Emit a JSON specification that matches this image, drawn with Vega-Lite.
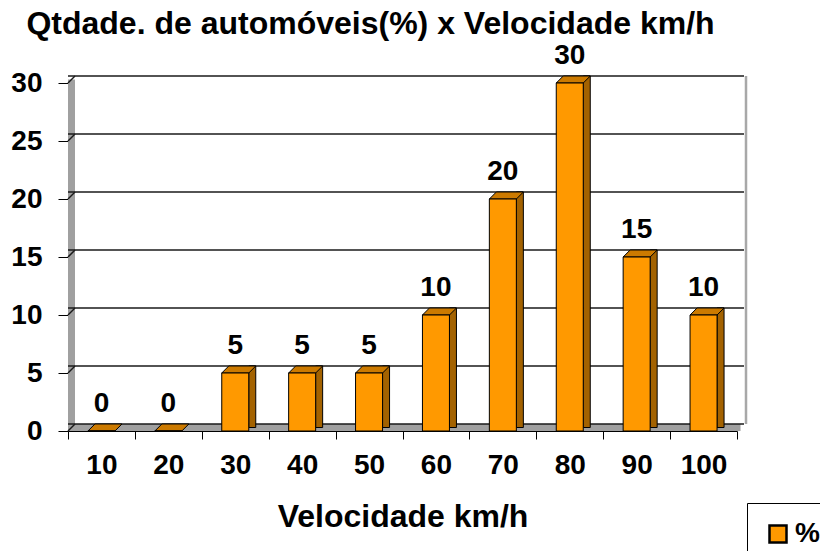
{
  "$schema": "https://vega.github.io/schema/vega-lite/v6.json",
  "width": 669,
  "height": 348,
  "autosize": {"type": "none"},
  "padding": {"left": 68, "top": 83, "right": 83, "bottom": 120},
  "background": "white",
  "title": {
    "text": "Qtdade. de automóveis(%) x Velocidade km/h",
    "font": "Liberation Sans",
    "fontSize": 32,
    "fontWeight": "bold",
    "color": "black",
    "anchor": "middle",
    "dx": -32,
    "baseline": "alphabetic",
    "offset": -24
  },
  "datasets": {
    "speeds": [
      {"v": "10", "pct": 0, "serie": "%"},
      {"v": "20", "pct": 0, "serie": "%"},
      {"v": "30", "pct": 5, "serie": "%"},
      {"v": "40", "pct": 5, "serie": "%"},
      {"v": "50", "pct": 5, "serie": "%"},
      {"v": "60", "pct": 10, "serie": "%"},
      {"v": "70", "pct": 20, "serie": "%"},
      {"v": "80", "pct": 30, "serie": "%"},
      {"v": "90", "pct": 15, "serie": "%"},
      {"v": "100", "pct": 10, "serie": "%"}
    ],
    "grid": [{"g": 0}, {"g": 5}, {"g": 10}, {"g": 15}, {"g": 20}, {"g": 25}, {"g": 30}],
    "wall": [{"w": "wall"}]
  },
  "layer": [
    {
      "data": {"name": "wall"},
      "mark": {"type": "rule", "stroke": "#a0a0a0", "strokeWidth": 7, "xOffset": 3.5, "yOffset": -3.5, "y2Offset": -3.5},
      "encoding": {
        "x": {"datum": "10", "type": "nominal", "bandPosition": 0, "scale": {"domain": ["10","20","30","40","50","60","70","80","90","100"], "paddingInner": 0, "paddingOuter": 0}, "title": "Velocidade km/h"},
        "y": {"datum": 0, "type": "quantitative", "scale": {"domain": [0, 30], "nice": false}, "title": null},
        "y2": {"datum": 30}
      }
    },
    {
      "data": {"name": "wall"},
      "mark": {"type": "rule", "stroke": "#a0a0a0", "strokeWidth": 7, "xOffset": 3.5, "x2Offset": 4.5, "yOffset": -3.5},
      "encoding": {
        "y": {"datum": 0, "type": "quantitative", "title": null}
      }
    },
    {
      "data": {"name": "wall"},
      "mark": {"type": "rule", "stroke": "#a8a8a8", "strokeWidth": 2.5, "xOffset": 9, "yOffset": -7, "y2Offset": -7},
      "encoding": {
        "x": {"datum": "100", "type": "nominal", "bandPosition": 1, "title": "Velocidade km/h"},
        "y": {"datum": 0, "type": "quantitative", "title": null},
        "y2": {"datum": 30}
      }
    },
    {
      "data": {"name": "grid"},
      "mark": {"type": "rule", "stroke": "#1a1a1a", "strokeWidth": 1.5, "xOffset": 7, "x2Offset": 9, "yOffset": -7},
      "encoding": {
        "y": {"field": "g", "type": "quantitative", "title": null}
      }
    },
    {
      "data": {"name": "grid"},
      "mark": {"type": "point", "shape": "M0,0L1,-1", "size": 196, "filled": false, "stroke": "#1a1a1a", "strokeWidth": 1.5, "opacity": 1},
      "encoding": {
        "x": {"datum": "10", "type": "nominal", "bandPosition": 0, "title": "Velocidade km/h"},
        "y": {"field": "g", "type": "quantitative", "title": null}
      }
    },
    {
      "data": {"name": "speeds"},
      "transform": [{"filter": "datum.pct > 0"}],
      "mark": {"type": "bar", "width": 7, "xOffset": 17, "yOffset": -7, "y2Offset": -3.5, "fill": "#a36200", "stroke": "black", "strokeWidth": 1},
      "encoding": {
        "x": {"field": "v", "type": "nominal", "title": "Velocidade km/h"},
        "y": {"field": "pct", "type": "quantitative", "title": null},
        "y2": {"datum": 0}
      }
    },
    {
      "data": {"name": "speeds"},
      "mark": {"type": "point", "shape": "M-1,0L1,0L1.5185,-0.5185L-0.4815,-0.5185Z", "size": 729, "filled": true, "fill": "#cc7a00", "stroke": "black", "strokeWidth": 1, "opacity": 1},
      "encoding": {
        "x": {"field": "v", "type": "nominal", "title": "Velocidade km/h"},
        "y": {"field": "pct", "type": "quantitative", "title": null}
      }
    },
    {
      "data": {"name": "speeds"},
      "mark": {"type": "bar", "width": 27, "stroke": "black", "strokeWidth": 1},
      "encoding": {
        "x": {"field": "v", "type": "nominal", "title": "Velocidade km/h"},
        "y": {"field": "pct", "type": "quantitative", "title": null},
        "y2": {"datum": 0},
        "color": {
          "field": "serie", "type": "nominal",
          "scale": {"domain": ["%"], "range": ["#ff9900"]},
          "legend": {
            "title": null, "orient": "none", "legendX": 679, "legendY": 420,
            "symbolType": "square", "symbolSize": 289, "symbolStrokeColor": "black", "symbolStrokeWidth": 2.5, "symbolOpacity": 1,
            "labelFont": "Liberation Sans", "labelFontSize": 28, "labelFontWeight": "bold", "labelColor": "black", "labelOffset": 3,
            "strokeColor": "black", "fillColor": "white", "padding": 17
          }
        }
      }
    },
    {
      "data": {"name": "speeds"},
      "mark": {"type": "text", "font": "Liberation Sans", "fontSize": 28, "fontWeight": "bold", "color": "black", "baseline": "alphabetic", "dy": -19},
      "encoding": {
        "x": {"field": "v", "type": "nominal", "title": "Velocidade km/h"},
        "y": {"field": "pct", "type": "quantitative", "title": null},
        "text": {"field": "pct", "type": "quantitative"}
      }
    }
  ],
  "config": {
    "view": {"stroke": null},
    "axisX": {
      "labelAngle": 0, "labelFont": "Liberation Sans", "labelFontSize": 28, "labelFontWeight": "bold", "labelColor": "black",
      "tickBand": "extent", "tickSize": 8, "tickColor": "black", "domainColor": "black", "labelPadding": 12,
      "titleFont": "Liberation Sans", "titleFontSize": 32, "titleFontWeight": "bold", "titleColor": "black", "titlePadding": 22, "grid": false
    },
    "axisY": {
      "values": [0, 5, 10, 15, 20, 25, 30],
      "labelFont": "Liberation Sans", "labelFontSize": 28, "labelFontWeight": "bold", "labelColor": "black",
      "tickSize": 10, "tickColor": "black", "domainColor": "black", "labelPadding": 16, "grid": false
    }
  }
}
